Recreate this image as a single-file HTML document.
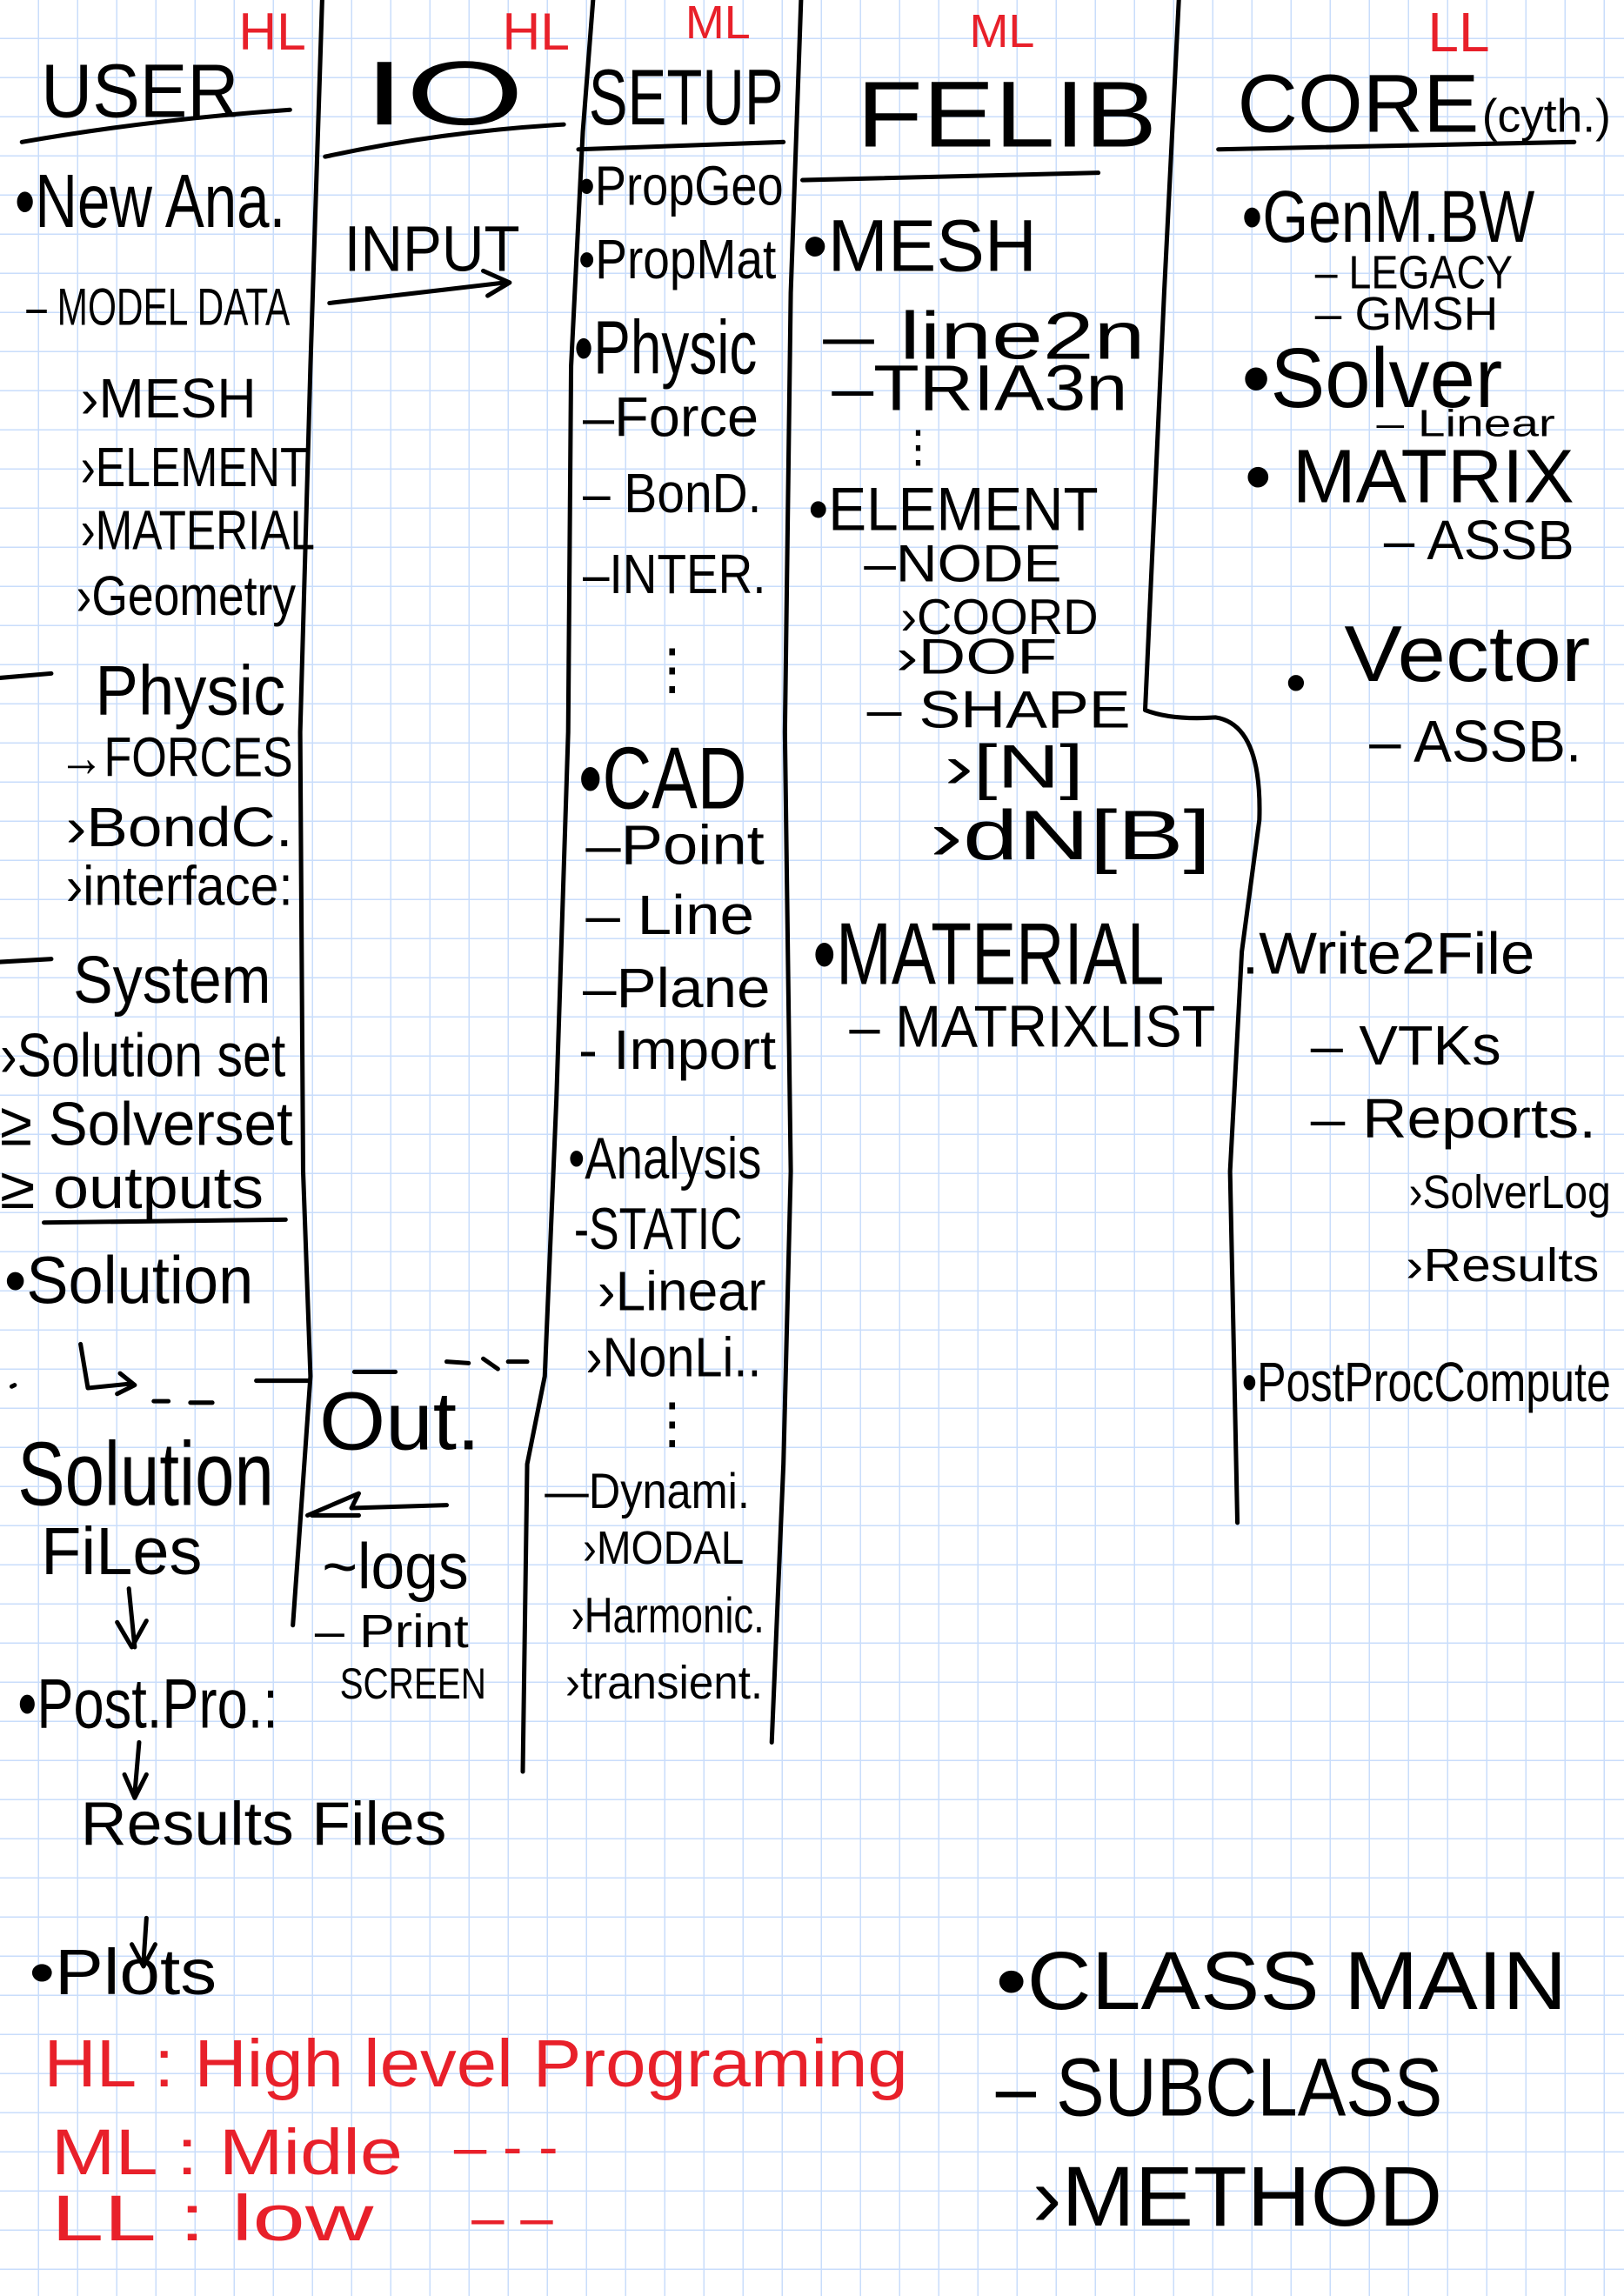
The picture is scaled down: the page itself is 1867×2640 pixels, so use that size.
<!DOCTYPE html>
<html><head><meta charset="utf-8"><style>
html,body{margin:0;padding:0;background:#fff}
svg{display:block}
text{font-family:"Liberation Sans",sans-serif;fill:#000}
.r{fill:#e8202a}
</style></head><body>
<svg width="1867" height="2640" viewBox="0 0 1867 2640" xmlns="http://www.w3.org/2000/svg">
<defs>
<pattern id="g" width="45" height="45" patternUnits="userSpaceOnUse" x="0" y="0">
<path d="M45 0V45M0 45H45" stroke="#c9ddfb" stroke-width="3" fill="none"/>
</pattern>
</defs>
<rect width="1867" height="2640" fill="#fff"/>
<rect width="1867" height="2640" fill="url(#g)"/>
<g transform="scale(1.6835)">
<g fill="none" stroke="#000" stroke-width="3" stroke-linecap="round" stroke-linejoin="round">
<!-- column lines -->
<path d="M220,0 L212,250 L205,500 L207,800 L212,940 L205,1040 L200,1110"/>
<path d="M405,0 L398,90 L390,250 L388,500 L380,750 L372,940 L360,1000 L357,1210"/>
<path d="M547,0 L540,200 L536,500 L540,800 L535,1000 L527,1190"/>
<path d="M805,0 L795,200 L782,485 Q800,492 830,490 Q862,495 860,560 L848,650 L840,800 L845,1040"/>
<!-- header underlines -->
<path d="M15,97 Q100,82 198,75"/>
<path d="M222,107 Q300,90 385,85"/>
<path d="M395,102 L535,97"/>
<path d="M548,123 L750,118"/>
<path d="M832,102 L1075,97"/>
<!-- input arrow -->
<path d="M225,207 L345,193 M330,185 L348,193 L333,202"/>
<!-- left misc -->
<path d="M0,463 L35,460"/>
<path d="M0,657 L35,655"/>
<path d="M30,835 L195,833"/>
<path d="M55,918 L60,948 L90,945 M82,938 L92,946 L80,952"/>
<path d="M8,947 L10,946 M105,957 L115,957 M130,958 L145,958 M175,943 L210,943 M242,937 L270,937 M305,930 L320,931 M330,928 L340,935 M347,930 L360,930"/>
<path d="M210,1035 L245,1020 L240,1030 L305,1028 M213,1035 L245,1035"/>
<path d="M88,1085 L92,1125 M80,1108 L90,1125 L100,1107"/>
<path d="M95,1190 L92,1225 M85,1212 L92,1228 L100,1212"/>
<path d="M100,1310 L98,1340 M90,1328 L98,1343 L106,1328"/>
</g>
<!-- headers -->
<text x="28" y="80" font-size="52" textLength="135" lengthAdjust="spacingAndGlyphs">USER</text>
<text class="r" x="163" y="34" font-size="36">HL</text>
<text x="248" y="85" font-size="62" textLength="110" lengthAdjust="spacingAndGlyphs">IO</text>
<text class="r" x="343" y="34" font-size="36">HL</text>
<text x="402" y="85" font-size="54" textLength="133" lengthAdjust="spacingAndGlyphs">SETUP</text>
<text class="r" x="468" y="26" font-size="32">ML</text>
<text x="585" y="100" font-size="64" textLength="205" lengthAdjust="spacingAndGlyphs">FELIB</text>
<text class="r" x="662" y="32" font-size="32">ML</text>
<text x="845" y="90" font-size="56" textLength="165" lengthAdjust="spacingAndGlyphs">CORE</text>
<text x="1012" y="90" font-size="32" textLength="88" lengthAdjust="spacingAndGlyphs">(cyth.)</text>
<text class="r" x="975" y="35" font-size="38">LL</text>

<!-- USER column -->
<g font-size="38">
<text x="10" y="155" font-size="52" textLength="185" lengthAdjust="spacingAndGlyphs">•New Ana.</text>
<text x="18" y="222" font-size="36" textLength="180" lengthAdjust="spacingAndGlyphs">– MODEL DATA</text>
<text x="55" y="285" textLength="120" lengthAdjust="spacingAndGlyphs">›MESH</text>
<text x="55" y="332" textLength="155" lengthAdjust="spacingAndGlyphs">›ELEMENT</text>
<text x="55" y="375" textLength="160" lengthAdjust="spacingAndGlyphs">›MATERIAL</text>
<text x="52" y="420" textLength="150" lengthAdjust="spacingAndGlyphs">›Geometry</text>
<text x="65" y="488" font-size="48" textLength="130" lengthAdjust="spacingAndGlyphs">Physic</text>
<text x="40" y="530" textLength="160" lengthAdjust="spacingAndGlyphs">→FORCES</text>
<text x="45" y="578" textLength="155" lengthAdjust="spacingAndGlyphs">›BondC.</text>
<text x="45" y="618" textLength="155" lengthAdjust="spacingAndGlyphs">›interface:</text>
<text x="50" y="685" font-size="46" textLength="135" lengthAdjust="spacingAndGlyphs">System</text>
<text x="0" y="735" font-size="42" textLength="195" lengthAdjust="spacingAndGlyphs">›Solution set</text>
<text x="0" y="782" font-size="42" textLength="200" lengthAdjust="spacingAndGlyphs">≥ Solverset</text>
<text x="0" y="825" font-size="40" textLength="180" lengthAdjust="spacingAndGlyphs">≥ outputs</text>
<text x="3" y="890" font-size="46" textLength="170" lengthAdjust="spacingAndGlyphs">•Solution</text>
<text x="12" y="1028" font-size="62" textLength="175" lengthAdjust="spacingAndGlyphs">Solution</text>
<text x="28" y="1075" font-size="46" textLength="110" lengthAdjust="spacingAndGlyphs">FiLes</text>
<text x="12" y="1180" font-size="48" textLength="178" lengthAdjust="spacingAndGlyphs">•Post.Pro.:</text>
<text x="55" y="1260" font-size="42" textLength="250" lengthAdjust="spacingAndGlyphs">Results Files</text>
<text x="20" y="1362" font-size="44" textLength="128" lengthAdjust="spacingAndGlyphs">•Plots</text>
</g>

<!-- IO column -->
<text x="235" y="185" font-size="44" textLength="120" lengthAdjust="spacingAndGlyphs">INPUT</text>
<text x="218" y="990" font-size="56" textLength="110" lengthAdjust="spacingAndGlyphs">Out.</text>
<text x="220" y="1085" font-size="44" textLength="100" lengthAdjust="spacingAndGlyphs">~logs</text>
<text x="215" y="1125" font-size="32" textLength="105" lengthAdjust="spacingAndGlyphs">– Print</text>
<text x="232" y="1160" font-size="30" textLength="100" lengthAdjust="spacingAndGlyphs">SCREEN</text>

<!-- SETUP column -->
<g font-size="38">
<text x="395" y="140" textLength="140" lengthAdjust="spacingAndGlyphs">•PropGeo</text>
<text x="395" y="190" textLength="135" lengthAdjust="spacingAndGlyphs">•PropMat</text>
<text x="392" y="255" font-size="52" textLength="125" lengthAdjust="spacingAndGlyphs">•Physic</text>
<text x="398" y="298" textLength="120" lengthAdjust="spacingAndGlyphs">–Force</text>
<text x="398" y="350" textLength="122" lengthAdjust="spacingAndGlyphs">– BonD.</text>
<text x="398" y="405" textLength="125" lengthAdjust="spacingAndGlyphs">–INTER.</text>
<text x="440" y="470">⋮</text>
<text x="395" y="552" font-size="60" textLength="115" lengthAdjust="spacingAndGlyphs">•CAD</text>
<text x="400" y="590" textLength="122" lengthAdjust="spacingAndGlyphs">–Point</text>
<text x="400" y="638" textLength="115" lengthAdjust="spacingAndGlyphs">– Line</text>
<text x="398" y="688" textLength="128" lengthAdjust="spacingAndGlyphs">–Plane</text>
<text x="395" y="730" textLength="135" lengthAdjust="spacingAndGlyphs">- Import</text>
<text x="388" y="805" font-size="40" textLength="132" lengthAdjust="spacingAndGlyphs">•Analysis</text>
<text x="392" y="853" font-size="40" textLength="115" lengthAdjust="spacingAndGlyphs">-STATIC</text>
<text x="408" y="895" textLength="115" lengthAdjust="spacingAndGlyphs">›Linear</text>
<text x="400" y="940" textLength="120" lengthAdjust="spacingAndGlyphs">›NonLi..</text>
<text x="440" y="985">⋮</text>
<text x="372" y="1030" font-size="34" textLength="140" lengthAdjust="spacingAndGlyphs">—Dynami.</text>
<text x="398" y="1068" font-size="32" textLength="110" lengthAdjust="spacingAndGlyphs">›MODAL</text>
<text x="390" y="1115" font-size="34" textLength="132" lengthAdjust="spacingAndGlyphs">›Harmonic.</text>
<text x="386" y="1160" font-size="32" textLength="135" lengthAdjust="spacingAndGlyphs">›transient.</text>
</g>

<!-- FELIB column -->
<g font-size="42">
<text x="548" y="185" font-size="50" textLength="160" lengthAdjust="spacingAndGlyphs">•MESH</text>
<text x="562" y="245" font-size="46" textLength="220" lengthAdjust="spacingAndGlyphs">– line2n</text>
<text x="568" y="280" font-size="44" textLength="202" lengthAdjust="spacingAndGlyphs">–TRIA3n</text>
<text x="612" y="315" font-size="30">⋮</text>
<text x="552" y="362" textLength="198" lengthAdjust="spacingAndGlyphs">•ELEMENT</text>
<text x="590" y="397" font-size="36" textLength="135" lengthAdjust="spacingAndGlyphs">–NODE</text>
<text x="615" y="433" font-size="34" textLength="135" lengthAdjust="spacingAndGlyphs">›COORD</text>
<text x="612" y="460" font-size="34" textLength="110" lengthAdjust="spacingAndGlyphs">›DOF</text>
<text x="592" y="497" font-size="36" textLength="180" lengthAdjust="spacingAndGlyphs">– SHAPE</text>
<text x="645" y="538" font-size="42" textLength="95" lengthAdjust="spacingAndGlyphs">›[N]</text>
<text x="635" y="587" font-size="48" textLength="192" lengthAdjust="spacingAndGlyphs">›dN[B]</text>
<text x="555" y="672" font-size="60" textLength="240" lengthAdjust="spacingAndGlyphs">•MATERIAL</text>
<text x="580" y="715" font-size="40" textLength="250" lengthAdjust="spacingAndGlyphs">– MATRIXLIST</text>
</g>

<!-- CORE column -->
<g font-size="42">
<text x="848" y="165" font-size="50" textLength="200" lengthAdjust="spacingAndGlyphs">•GenM.BW</text>
<text x="898" y="197" font-size="32" textLength="135" lengthAdjust="spacingAndGlyphs">– LEGACY</text>
<text x="898" y="225" font-size="32" textLength="125" lengthAdjust="spacingAndGlyphs">– GMSH</text>
<text x="848" y="278" font-size="58" textLength="178" lengthAdjust="spacingAndGlyphs">•Solver</text>
<text x="940" y="298" font-size="26" textLength="122" lengthAdjust="spacingAndGlyphs">– Linear</text>
<text x="850" y="343" font-size="52" textLength="225" lengthAdjust="spacingAndGlyphs">•  MATRIX</text>
<text x="945" y="382" font-size="38" textLength="130" lengthAdjust="spacingAndGlyphs">– ASSB</text>
<text x="918" y="465" font-size="54" textLength="168" lengthAdjust="spacingAndGlyphs">Vector</text>
<text x="878" y="480" font-size="40">•</text>
<text x="935" y="520" font-size="40" textLength="145" lengthAdjust="spacingAndGlyphs">– ASSB.</text>
<text x="848" y="665" font-size="40" textLength="200" lengthAdjust="spacingAndGlyphs">.Write2File</text>
<text x="895" y="727" font-size="38" textLength="130" lengthAdjust="spacingAndGlyphs">– VTKs</text>
<text x="895" y="777" font-size="38" textLength="195" lengthAdjust="spacingAndGlyphs">– Reports.</text>
<text x="962" y="825" font-size="32" textLength="138" lengthAdjust="spacingAndGlyphs">›SolverLog</text>
<text x="960" y="875" font-size="32" textLength="132" lengthAdjust="spacingAndGlyphs">›Results</text>
<text x="848" y="957" font-size="38" textLength="252" lengthAdjust="spacingAndGlyphs">•PostProcCompute</text>
</g>

<!-- legend -->
<g>
<text x="680" y="1372" font-size="56" textLength="390" lengthAdjust="spacingAndGlyphs">•CLASS  MAIN</text>
<text x="680" y="1445" font-size="56" textLength="305" lengthAdjust="spacingAndGlyphs">– SUBCLASS</text>
<text x="705" y="1520" font-size="58" textLength="280" lengthAdjust="spacingAndGlyphs">›METHOD</text>
</g>
<g class="r">
<text class="r" x="30" y="1425" font-size="46" textLength="590" lengthAdjust="spacingAndGlyphs">HL : High level Programing</text>
<text class="r" x="35" y="1485" font-size="44" textLength="240" lengthAdjust="spacingAndGlyphs">ML : Midle</text>
<text class="r" x="35" y="1530" font-size="44" textLength="220" lengthAdjust="spacingAndGlyphs">LL : low</text>
<text class="r" x="310" y="1480" font-size="40">–      - -</text>
<text class="r" x="322" y="1528" font-size="40">–      –</text>
</g>
</g>
</svg>
</body></html>
